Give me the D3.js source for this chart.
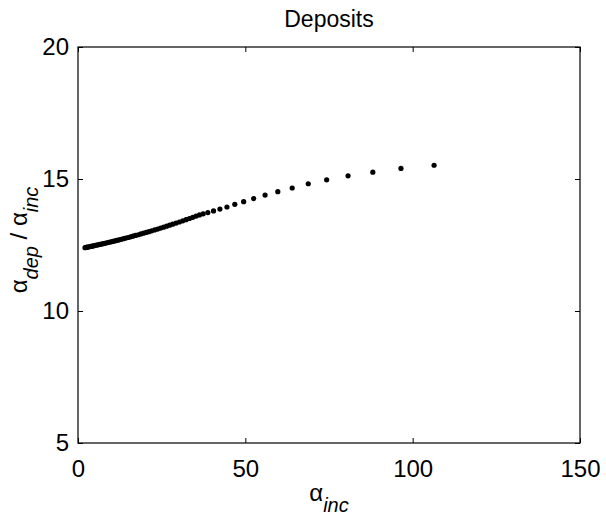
<!DOCTYPE html>
<html>
<head>
<meta charset="utf-8">
<script src="https://cdn.jsdelivr.net/npm/d3@7"></script>
<style>
  html, body { margin: 0; padding: 0; background: #fff; }
  svg { display: block; font-family: "Liberation Sans", Arial, Helvetica, sans-serif; }
</style>
</head>
<body>
<svg id="chart" width="606" height="529"></svg>
<script>
const title = "Deposits";
const xTicks = [0, 50, 100, 150];
const yTicks = [5, 10, 15, 20];
const xDomain = [0, 150];
const yDomain = [5, 20];

// alpha_inc values
const alphaInc = [
  2.1, 2.4, 2.7, 3.0, 3.4, 3.8, 4.2, 4.6, 5.0, 5.5, 6.0, 6.5, 7.0, 7.5, 8.0,
  8.6, 9.2, 9.8, 10.4, 11.0, 11.6, 12.2, 12.9, 13.6, 14.3, 15.0, 15.7, 16.4,
  17.2, 18.0, 18.8, 19.6, 20.4, 21.2, 22.0, 22.9, 23.8, 24.7, 25.6, 26.5,
  27.4, 28.3, 29.3, 30.3, 31.3, 32.3, 33.3, 34.3, 35.3, 36.3, 37.4, 38.8,
  40.5, 42.4, 44.5, 46.85, 49.5, 52.5, 55.9, 59.7, 64.0, 68.8, 74.3, 80.7,
  88.1, 96.5, 106.4
];
// alpha_dep / alpha_inc values
const ratio = [
  12.400, 12.408, 12.416, 12.423, 12.434, 12.445, 12.456, 12.467, 12.478,
  12.492, 12.506, 12.520, 12.535, 12.549, 12.564, 12.582, 12.600, 12.618,
  12.637, 12.655, 12.674, 12.693, 12.716, 12.739, 12.762, 12.785, 12.809,
  12.833, 12.861, 12.889, 12.918, 12.947, 12.976, 13.006, 13.036, 13.071,
  13.105, 13.141, 13.177, 13.213, 13.250, 13.287, 13.329, 13.372, 13.415,
  13.459, 13.503, 13.548, 13.594, 13.640, 13.68, 13.73, 13.79, 13.86, 13.94,
  14.04, 14.14, 14.26, 14.39, 14.52, 14.66, 14.82, 14.97, 15.12, 15.26,
  15.40, 15.52
];

const svg = d3.select("#chart");
const L = 78, R = 580, T = 47, B = 443;
const x = d3.scaleLinear().domain(xDomain).range([L, R]);
const y = d3.scaleLinear().domain(yDomain).range([B, T]);
const FS = 24;
const SUB = 20;

function styleAxis(g, showText) {
  g.select(".domain").remove();
  g.selectAll(".tick line").attr("stroke", "#000").attr("stroke-width", 1);
  g.selectAll(".tick text").attr("fill", "#000").style("font-size", FS + "px")
    .style("font-family", '"Liberation Sans", Arial, sans-serif');
  if (!showText) g.selectAll(".tick text").remove();
}

// bottom axis
svg.append("g").attr("transform", `translate(0,${B})`)
  .call(d3.axisBottom(x).tickValues(xTicks).tickSize(-5).tickPadding(17).tickFormat(d3.format("d")))
  .call(g => styleAxis(g, true));
// top axis
svg.append("g").attr("transform", `translate(0,${T})`)
  .call(d3.axisTop(x).tickValues(xTicks).tickSize(-5))
  .call(g => styleAxis(g, false));
// left axis
svg.append("g").attr("transform", `translate(${L},0)`)
  .call(d3.axisLeft(y).tickValues(yTicks).tickSize(-5).tickPadding(9).tickFormat(d3.format("d")))
  .call(g => styleAxis(g, true));
// right axis
svg.append("g").attr("transform", `translate(${R},0)`)
  .call(d3.axisRight(y).tickValues(yTicks).tickSize(-5))
  .call(g => styleAxis(g, false));

// box
svg.append("rect").attr("x", L).attr("y", T).attr("width", R - L).attr("height", B - T)
  .attr("fill", "none").attr("stroke", "#000").attr("stroke-width", 1.2);

// points
svg.append("g").selectAll("circle")
  .data(alphaInc.map((v, i) => [v, ratio[i]]))
  .join("circle")
  .attr("cx", d => x(d[0]))
  .attr("cy", d => y(d[1]))
  .attr("r", 2.6)
  .attr("fill", "#000");

// title
svg.append("text").attr("x", (L + R) / 2).attr("y", 27)
  .attr("text-anchor", "middle").style("font-size", "23px").text(title);

// x label
const xl = svg.append("text").attr("x", (L + R) / 2).attr("y", 501)
  .attr("text-anchor", "middle").style("font-size", FS + "px");
xl.append("tspan").text("α");
xl.append("tspan").attr("dy", 11).style("font-size", SUB + "px").style("font-style", "italic").text("inc");

// y label
const yl = svg.append("text").attr("transform", "translate(27,240) rotate(-90)")
  .attr("text-anchor", "middle").style("font-size", FS + "px");
yl.append("tspan").text("α");
yl.append("tspan").attr("dy", 11).style("font-size", SUB + "px").style("font-style", "italic").text("dep");
yl.append("tspan").attr("dy", -11).text(" / α");
yl.append("tspan").attr("dy", 11).style("font-size", SUB + "px").style("font-style", "italic").text("inc");
</script>
</body>
</html>
